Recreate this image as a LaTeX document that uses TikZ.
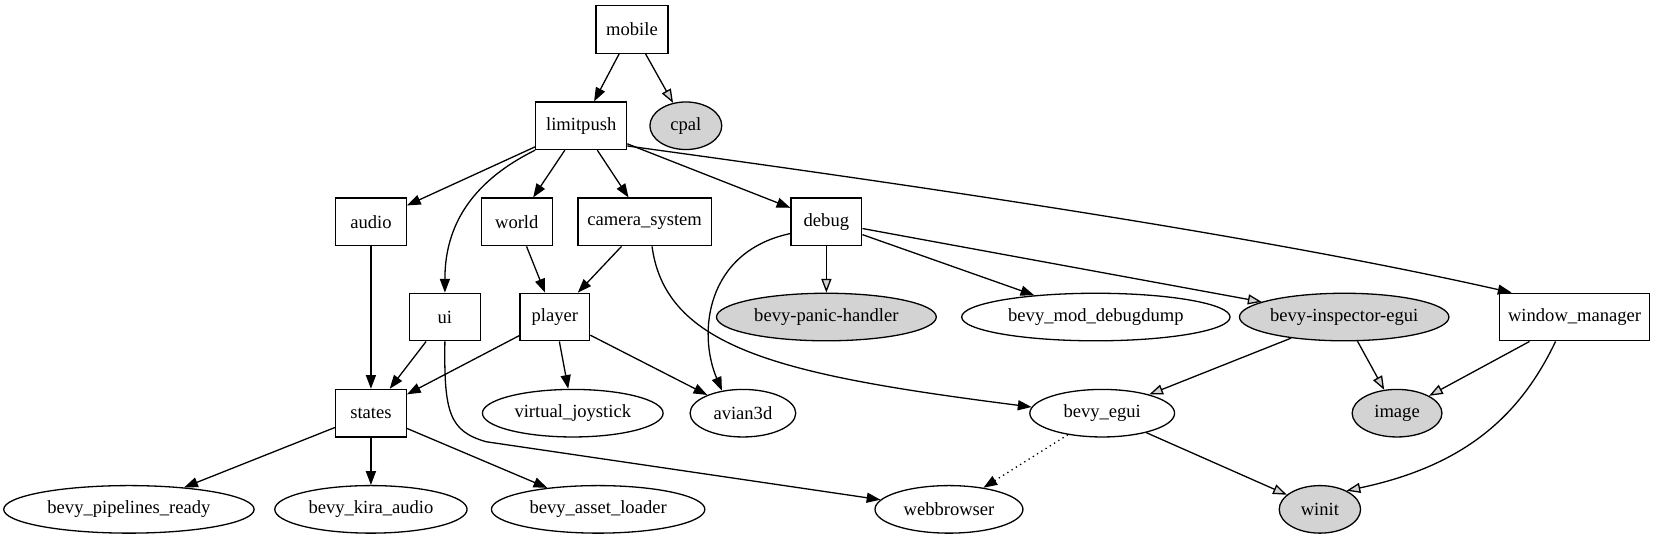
\documentclass[tikz,border=0pt]{standalone}
\usepackage{fontspec}
\setmainfont{Liberation Serif}
\usetikzlibrary{shapes.geometric,arrows.meta,calc}
\definecolor{gvgray}{HTML}{D3D3D3}
\tikzset{
  gvbox/.style={draw, rectangle, minimum height=0.9cm, inner sep=0pt, line width=0.7pt, font=\fontsize{10}{12}\selectfont},
  gvell/.style={draw, ellipse, minimum height=0.9cm, inner sep=0pt, line width=0.7pt, font=\fontsize{10}{12}\selectfont},
  gvfill/.style={fill=gvgray},
  arr/.style={line width=0.7pt, -{Triangle[length=0.26cm,width=0.19cm]}},
  oarr/.style={line width=0.7pt, -{Triangle[length=0.26cm,width=0.19cm,fill=gvgray]}},
}
\begin{document}
\begin{tikzpicture}[x=0.02cm,y=-0.02cm]
\path[fill=white,use as bounding box] (0,0) rectangle (1568,510);
% nodes
\node[gvbox, minimum width=1.36cm] (mobile) at (598,28) {mobile};
\node[gvbox, minimum width=1.72cm] (lp) at (550,119) {limitpush};
\node[gvell, gvfill, minimum width=1.36cm] (cpal) at (649,119) {cpal};
\node[gvbox, minimum width=1.34cm] (audio) at (351,210) {audio};
\node[gvbox, minimum width=1.34cm] (world) at (489,210) {world};
\node[gvbox, minimum width=2.52cm] (cam) at (610,210) {camera\_system};
\node[gvbox, minimum width=1.34cm] (debug) at (782,210) {debug};
\node[gvbox, minimum width=1.34cm] (ui) at (421,300) {ui};
\node[gvbox, minimum width=1.32cm] (player) at (525,300) {player};
\node[gvell, gvfill, minimum width=4.16cm] (bph) at (782,300) {bevy-panic-handler};
\node[gvell, minimum width=5.08cm] (bmd) at (1037,300) {bevy\_mod\_debugdump};
\node[gvell, gvfill, minimum width=3.74cm] (bie) at (1272,300) {bevy-inspector-egui};
\node[gvbox, minimum width=2.84cm] (wm) at (1490,300) {window\_manager};
\node[gvbox, minimum width=1.34cm] (states) at (351,391) {states};
\node[gvell, minimum width=3.42cm] (vj) at (542,391) {virtual\_joystick};
\node[gvell, minimum width=2.0cm] (av) at (703,391) {avian3d};
\node[gvell, minimum width=2.74cm] (be) at (1043,391) {bevy\_egui};
\node[gvell, gvfill, minimum width=1.70cm] (img) at (1322,391) {image};
\node[gvell, minimum width=4.74cm] (bpr) at (122,482) {bevy\_pipelines\_ready};
\node[gvell, minimum width=3.64cm] (bka) at (351,482) {bevy\_kira\_audio};
\node[gvell, minimum width=4.04cm] (bal) at (566,482) {bevy\_asset\_loader};
\node[gvell, minimum width=2.8cm] (wb) at (898,482) {webbrowser};
\node[gvell, gvfill, minimum width=1.54cm] (wt) at (1249,482) {winit};
% edges
\draw[arr] (mobile) -- (lp);
\draw[oarr] (mobile) -- (cpal);
\draw[arr] (lp) -- (audio);
\draw[arr] (lp.south west) .. controls (440,175) and (421,220) .. (ui.north);
\draw[arr] (lp) -- (world);
\draw[arr] (lp) -- (cam);
\draw[arr] (lp) -- (debug);
\draw[arr] ($(lp.south east)+(0,-4)$) .. controls (900,180) and (1200,225) .. ($(wm.north west)+(12,0)$);
\draw[arr] (audio) -- (states);
\draw[arr] (world) -- (player);
\draw[arr] (cam) -- (player);
\draw[arr] ($(cam.south)+(7,0)$) .. controls (630,330) and (740,355) .. (be.175);
\draw[oarr] (debug) -- (bph);
\draw[arr] (debug) -- (bmd);
\draw[oarr] (debug) -- (bie);
\draw[arr] ($(debug.west)+(0,11)$) .. controls (668,238) and (660,315) .. (av.133);
\draw[arr] (ui) -- (states);
\draw[arr] (ui.south) .. controls (420,390) and (425,408) .. (460,418) -- (wb.172);
\draw[arr] (player) -- (states);
\draw[arr] (player) -- (vj);
\draw[arr] (player) -- (av);
\draw[arr] (states) -- (bpr);
\draw[arr] (states) -- (bka);
\draw[arr] (states) -- (bal);
\draw[oarr] (bie) -- (be);
\draw[oarr] (bie) -- (img);
\draw[oarr] (wm) -- (img);
\draw[oarr] ($(wm.south)+(-18,0)$) .. controls (1440,390) and (1390,440) .. (wt.35);
\draw[arr, dotted] (be) -- (wb);
\draw[oarr] (be) -- (wt);
\end{tikzpicture}
\end{document}
